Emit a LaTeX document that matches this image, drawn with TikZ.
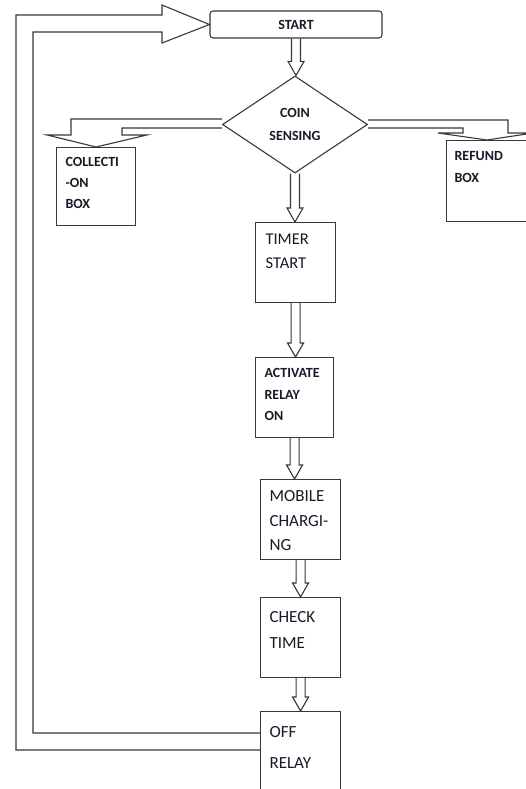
\documentclass[tikz,border=0pt]{standalone}
\usepackage{fontspec}
\setmainfont{Carlito}
\usetikzlibrary{calc, shapes.geometric}

\definecolor{linec}{gray}{0.22}
\definecolor{txtc}{RGB}{25,25,40}
\newcommand{\fs}[2]{\fontsize{#1}{#2}\selectfont}

\begin{document}
\begin{tikzpicture}[x=1pt, y=-1pt,
  box/.style n args={3}{draw=linec, line width=1.1pt, anchor=north west, align=left,
              inner ysep=0pt, inner xsep=9pt, text=txtc,
              text width=#1, text height=#2, text depth=#3},
  arr/.style={draw=linec, line width=1.1pt, line join=miter},
  varr/.style={arr, to path={let \p1=(\tikztostart), \p2=(\tikztotarget) in
      (\x1-4.5pt,\y1) -- (\x1-4.5pt,\y2+14pt) -- (\x1-8pt,\y2+14pt) -- (\x1,\y2)
      -- (\x1+8pt,\y2+14pt) -- (\x1+4.5pt,\y2+14pt) -- (\x1+4.5pt,\y1)}}
]
  \clip (0,0) rectangle (526,789);

  \node[draw=linec, line width=1.1pt, rounded corners=3pt, minimum width=172pt,
        minimum height=27pt, text=txtc, font=\bfseries\fs{14}{17}] (start) at (296,24.5) {START};
  \node[diamond, draw=linec, line width=1.1pt, minimum width=145pt, minimum height=97pt,
        inner sep=0pt, align=center, text=txtc, font=\bfseries\fs{14}{23}] (coin) at (295,124.5) {COIN\\SENSING};

  \node[box={61pt}{19pt}{59pt}, font=\bfseries\fs{14}{21}] (coll) at (56,147) {COLLECTI\\-ON\\BOX};
  \node[box={65pt}{20pt}{61pt}, inner xsep=8pt, font=\bfseries\fs{14}{22}] (refund) at (446,140) {REFUND\\BOX};
  \node[box={60pt}{22pt}{58pt}, inner xsep=10pt, font=\fs{16.5}{24}] (timer) at (255,222) {TIMER\\START};
  \node[box={60pt}{20pt}{60pt}, font=\bfseries\fs{14}{21.5}] (relayon) at (255,357) {ACTIVATE\\RELAY\\ON};
  \node[box={62pt}{22pt}{58pt}, font=\fs{17}{24.5}] (mobile) at (260,479) {MOBILE\\CHARGI-\\NG};
  \node[box={62pt}{25pt}{55pt}, font=\fs{17}{26}] (check) at (260,597) {CHECK\\TIME};
  \node[box={62pt}{26pt}{63pt}, font=\fs{17}{31}] (off) at (260,711) {OFF\\RELAY};

  \draw[varr] (start.south) to (coin.north);
  \draw[varr] (coin.south) to (timer.north);
  \draw[varr] (timer.south) to (relayon.north);
  \draw[varr] (relayon.south) to (mobile.north);
  \draw[varr] (mobile.south) to (check.north);
  \draw[varr] (check.south) to (off.north);

  % side outputs of the coin sensor
  \draw[arr] ([yshift=5.5pt]coin.west) -- (71,119) -- (71,135) -- (47,135) -- (coll.north)
    -- (147,135) -- (122,135) -- (122,128) -- ([yshift=-3.5pt]coin.west);
  \draw[arr] ([yshift=4.5pt]coin.east) -- (508,120) -- (508,133) -- (533,133) -- (refund.north)
    -- (438,133) -- (463,133) -- (463,128) -- ([yshift=-3.5pt]coin.east);

  % loop back to start
  \draw[arr] ([yshift=-22pt]off.north west) -- (33,733) -- (33,32) -- (162,32) -- (162,43)
    -- (start.west) -- (162,5) -- (162,15) -- (16,15) -- (16,750) -- ([yshift=-39pt]off.north west);
\end{tikzpicture}
\end{document}
